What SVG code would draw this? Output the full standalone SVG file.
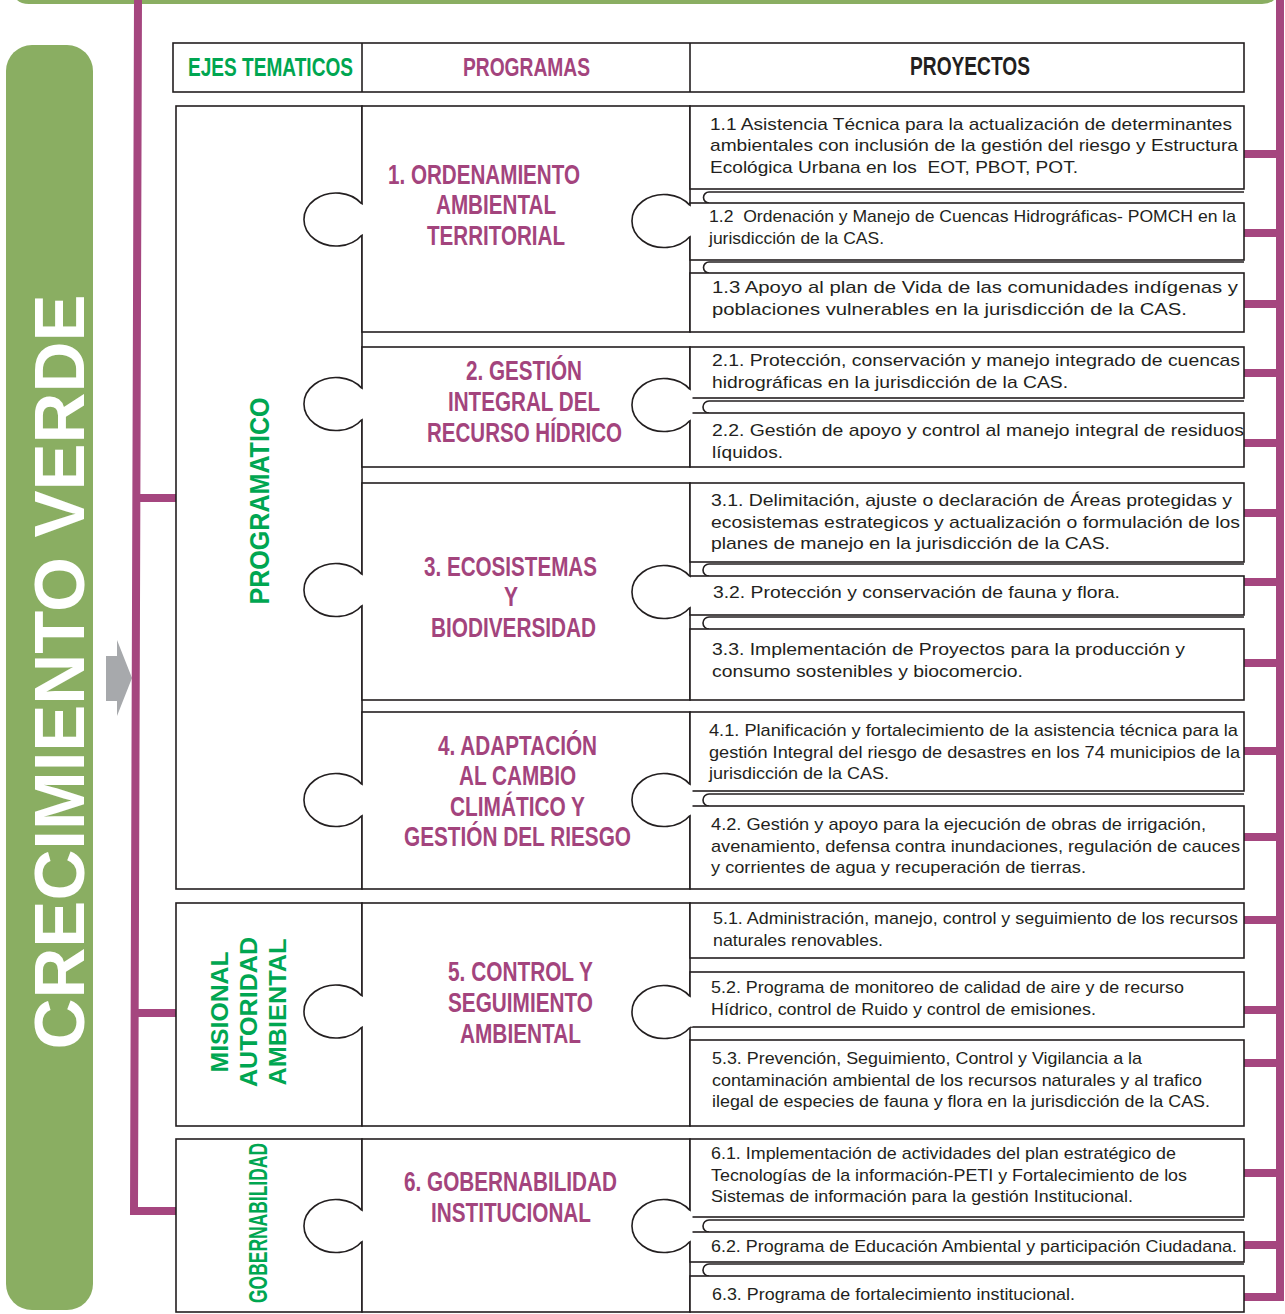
<svg xmlns="http://www.w3.org/2000/svg" width="1285" height="1314" viewBox="0 0 1285 1314">
<style>
.bx{fill:#fff;stroke:#231F20;stroke-width:1.6}
.ln{fill:none;stroke:#231F20;stroke-width:1.6}
.pt{font-family:"Liberation Sans",Arial,sans-serif;font-size:17px;fill:#231F20}
.pg{font-family:"Liberation Sans",Arial,sans-serif;font-weight:bold;font-size:27px;fill:#A3447D;text-anchor:start}
.gr{font-family:"Liberation Sans",Arial,sans-serif;font-weight:bold;fill:#00A651}
.hd{font-family:"Liberation Sans",Arial,sans-serif;font-weight:bold;font-size:26px}
.pu{fill:none;stroke:#A5467F;stroke-width:8}
</style>
<defs>
<g id="knob">
<rect x="-2.5" y="-14.6" width="5" height="29.2" fill="#fff"/>
<path d="M0,-15.4 A32,26.5 0 1 0 0,15.4" fill="#fff" stroke="#231F20" stroke-width="1.6"/>
</g>
</defs>

<!-- top green frame edge -->
<path d="M15,-12 Q15,2 29,2 H1262 Q1276,2 1276,-12" fill="none" stroke="#8AAE62" stroke-width="4"/>

<!-- left green banner -->
<g id="banner">
<rect x="6" y="45" width="87" height="1265" rx="26" fill="#8AAE62"/>
<text transform="translate(84,672) rotate(-90)" text-anchor="middle" font-family="Liberation Sans,Arial,sans-serif" font-weight="bold" font-size="70" fill="#fff" textLength="755" lengthAdjust="spacingAndGlyphs">CRECIMIENTO VERDE</text>
</g>
<g id="arrow">
<path d="M106,656 H117 V640 L132,678 L117,716 V701 H106 Z" fill="#A7A9AC"/>
</g>

<!-- connectors -->
<g id="connectors">
<path class="pu" d="M138,0 L134,1211 H176"/>
<path class="pu" d="M136,498 H176"/>
<path class="pu" d="M134,1013 H176"/>
<path class="pu" d="M1280,0 V1297 H1244"/>
<path class="pu" d="M1244,154 H1280 M1244,233 H1280 M1244,304 H1280 M1244,373 H1280 M1244,443 H1280 M1244,513 H1280 M1244,582 H1280 M1244,663 H1280 M1244,751 H1280 M1244,837 H1280 M1244,920 H1280 M1244,1010 H1280 M1244,1063 H1280 M1244,1173 H1280 M1244,1245 H1280"/>
</g>

<!-- header -->
<g id="header">
<rect class="bx" x="173" y="43" width="1071" height="49"/>
<line class="ln" x1="362" y1="43" x2="362" y2="92"/>
<line class="ln" x1="690" y1="43" x2="690" y2="92"/>
<text class="hd" x="188" y="76" fill="#00A651" textLength="165" lengthAdjust="spacingAndGlyphs">EJES TEMATICOS</text>
<text class="hd" x="463" y="76" fill="#A3447D" textLength="127" lengthAdjust="spacingAndGlyphs">PROGRAMAS</text>
<text class="hd" x="910" y="75" fill="#231F20" textLength="120" lengthAdjust="spacingAndGlyphs">PROYECTOS</text>
</g>

<!-- axis cells -->
<g id="eje-programatico">
<rect class="bx" x="176" y="106" width="186" height="783"/>
<text class="gr" font-size="27" transform="translate(269,501) rotate(-90)" text-anchor="middle" textLength="207" lengthAdjust="spacingAndGlyphs">PROGRAMATICO</text>
</g>
<g id="eje-misional">
<rect class="bx" x="176" y="903" width="186" height="223"/>
<text class="gr" font-size="24.5" transform="translate(228,1012) rotate(-90)" text-anchor="middle" textLength="121" lengthAdjust="spacingAndGlyphs">MISIONAL</text>
<text class="gr" font-size="24.5" transform="translate(257,1012) rotate(-90)" text-anchor="middle" textLength="150" lengthAdjust="spacingAndGlyphs">AUTORIDAD</text>
<text class="gr" font-size="24.5" transform="translate(286,1012) rotate(-90)" text-anchor="middle" textLength="147" lengthAdjust="spacingAndGlyphs">AMBIENTAL</text>
</g>
<g id="eje-gobernabilidad">
<rect class="bx" x="176" y="1139" width="186" height="173"/>
<text class="gr" font-size="25" transform="translate(267,1223) rotate(-90)" text-anchor="middle" textLength="160" lengthAdjust="spacingAndGlyphs">GOBERNABILIDAD</text>
</g>

<!-- programs -->
<g id="prog1">
<rect class="bx" x="362" y="106" width="328" height="226"/>
<text class="pg" x="388" y="184" textLength="192" lengthAdjust="spacingAndGlyphs">1. ORDENAMIENTO</text>
<text class="pg" x="436" y="214" textLength="120" lengthAdjust="spacingAndGlyphs">AMBIENTAL</text>
<text class="pg" x="427" y="245" textLength="138" lengthAdjust="spacingAndGlyphs">TERRITORIAL</text>
</g>
<g id="prog2">
<rect class="bx" x="362" y="347" width="328" height="120"/>
<text class="pg" x="466" y="380" textLength="116" lengthAdjust="spacingAndGlyphs">2. GESTIÓN</text>
<text class="pg" x="448" y="411" textLength="152" lengthAdjust="spacingAndGlyphs">INTEGRAL DEL</text>
<text class="pg" x="427" y="442" textLength="195" lengthAdjust="spacingAndGlyphs">RECURSO HÍDRICO</text>
</g>
<g id="prog3">
<rect class="bx" x="362" y="483" width="328" height="217"/>
<text class="pg" x="424" y="576" textLength="173" lengthAdjust="spacingAndGlyphs">3. ECOSISTEMAS</text>
<text class="pg" x="504" y="606" textLength="14" lengthAdjust="spacingAndGlyphs">Y</text>
<text class="pg" x="431" y="637" textLength="165" lengthAdjust="spacingAndGlyphs">BIODIVERSIDAD</text>
</g>
<g id="prog4">
<rect class="bx" x="362" y="712" width="328" height="177"/>
<text class="pg" x="438" y="755" textLength="159" lengthAdjust="spacingAndGlyphs">4. ADAPTACIÓN</text>
<text class="pg" x="459" y="785" textLength="117" lengthAdjust="spacingAndGlyphs">AL CAMBIO</text>
<text class="pg" x="450" y="816" textLength="135" lengthAdjust="spacingAndGlyphs">CLIMÁTICO Y</text>
<text class="pg" x="404" y="846" textLength="227" lengthAdjust="spacingAndGlyphs">GESTIÓN DEL RIESGO</text>
</g>
<g id="prog5">
<rect class="bx" x="362" y="903" width="328" height="223"/>
<text class="pg" x="448" y="981" textLength="145" lengthAdjust="spacingAndGlyphs">5. CONTROL Y</text>
<text class="pg" x="448" y="1012" textLength="145" lengthAdjust="spacingAndGlyphs">SEGUIMIENTO</text>
<text class="pg" x="460" y="1043" textLength="121" lengthAdjust="spacingAndGlyphs">AMBIENTAL</text>
</g>
<g id="prog6">
<rect class="bx" x="362" y="1139" width="328" height="173"/>
<text class="pg" x="404" y="1191" textLength="213" lengthAdjust="spacingAndGlyphs">6. GOBERNABILIDAD</text>
<text class="pg" x="431" y="1222" textLength="160" lengthAdjust="spacingAndGlyphs">INSTITUCIONAL</text>
</g>

<!-- projects -->
<g id="p11">
<rect class="bx" x="690" y="106" width="554" height="83"/>
<text class="pt" x="710" y="130" textLength="522" lengthAdjust="spacingAndGlyphs">1.1 Asistencia Técnica para la actualización de determinantes</text>
<text class="pt" x="710" y="151" textLength="528" lengthAdjust="spacingAndGlyphs">ambientales con inclusión de la gestión del riesgo y Estructura</text>
<text class="pt" x="710" y="173" textLength="368" lengthAdjust="spacingAndGlyphs">Ecológica Urbana en los &#160;EOT, PBOT, POT.</text>
</g>
<g id="p12">
<path class="ln" d="M1244,192 H709 A5.5,5.5 0 0 0 709,203"/>
<rect class="bx" x="690" y="203" width="554" height="57"/>
<text class="pt" x="709" y="222" textLength="527" lengthAdjust="spacingAndGlyphs">1.2 &#160;Ordenación y Manejo de Cuencas Hidrográficas- POMCH en la</text>
<text class="pt" x="709" y="244" textLength="175" lengthAdjust="spacingAndGlyphs">jurisdicción de la CAS.</text>
</g>
<g id="p13">
<path class="ln" d="M1244,262 H709 A5.5,5.5 0 0 0 709,273"/>
<rect class="bx" x="690" y="273" width="554" height="59"/>
<text class="pt" x="712" y="293" textLength="526" lengthAdjust="spacingAndGlyphs">1.3 Apoyo al plan de Vida de las comunidades indígenas y</text>
<text class="pt" x="712" y="315" textLength="475" lengthAdjust="spacingAndGlyphs">poblaciones vulnerables en la jurisdicción de la CAS.</text>
</g>
<g id="p21">
<rect class="bx" x="690" y="347" width="554" height="51"/>
<text class="pt" x="712" y="366" textLength="528" lengthAdjust="spacingAndGlyphs">2.1. Protección, conservación y manejo integrado de cuencas</text>
<text class="pt" x="712" y="388" textLength="356" lengthAdjust="spacingAndGlyphs">hidrográficas en la jurisdicción de la CAS.</text>
</g>
<g id="p22">
<path class="ln" d="M1244,401 H709 A6,6 0 0 0 709,413"/>
<rect class="bx" x="690" y="413" width="554" height="54"/>
<text class="pt" x="712" y="436" textLength="532" lengthAdjust="spacingAndGlyphs">2.2. Gestión de apoyo y control al manejo integral de residuos</text>
<text class="pt" x="712" y="458" textLength="71" lengthAdjust="spacingAndGlyphs">líquidos.</text>
</g>
<g id="p31">
<rect class="bx" x="690" y="483" width="554" height="79"/>
<text class="pt" x="711" y="506" textLength="521" lengthAdjust="spacingAndGlyphs">3.1. Delimitación, ajuste o declaración de Áreas protegidas y</text>
<text class="pt" x="711" y="528" textLength="529" lengthAdjust="spacingAndGlyphs">ecosistemas estrategicos y actualización o formulación de los</text>
<text class="pt" x="711" y="549" textLength="399" lengthAdjust="spacingAndGlyphs">planes de manejo en la jurisdicción de la CAS.</text>
</g>
<g id="p32">
<path class="ln" d="M1244,564 H709 A6,6 0 0 0 709,576"/>
<rect class="bx" x="690" y="576" width="554" height="39"/>
<text class="pt" x="713" y="598" textLength="407" lengthAdjust="spacingAndGlyphs">3.2. Protección y conservación de fauna y flora.</text>
</g>
<g id="p33">
<path class="ln" d="M1244,617 H709 A6,6 0 0 0 709,629"/>
<rect class="bx" x="690" y="629" width="554" height="71"/>
<text class="pt" x="712" y="655" textLength="473" lengthAdjust="spacingAndGlyphs">3.3. Implementación de Proyectos para la producción y</text>
<text class="pt" x="712" y="677" textLength="311" lengthAdjust="spacingAndGlyphs">consumo sostenibles y biocomercio.</text>
</g>
<g id="p41">
<rect class="bx" x="690" y="712" width="554" height="79"/>
<text class="pt" x="709" y="736" textLength="529" lengthAdjust="spacingAndGlyphs">4.1. Planificación y fortalecimiento de la asistencia técnica para la</text>
<text class="pt" x="709" y="758" textLength="531" lengthAdjust="spacingAndGlyphs">gestión Integral del riesgo de desastres en los 74 municipios de la</text>
<text class="pt" x="709" y="779" textLength="180" lengthAdjust="spacingAndGlyphs">jurisdicción de la CAS.</text>
</g>
<g id="p42">
<path class="ln" d="M1244,794 H709 A6,6 0 0 0 709,806"/>
<rect class="bx" x="690" y="806" width="554" height="83"/>
<text class="pt" x="711" y="830" textLength="495" lengthAdjust="spacingAndGlyphs">4.2. Gestión y apoyo para la ejecución de obras de irrigación,</text>
<text class="pt" x="711" y="852" textLength="529" lengthAdjust="spacingAndGlyphs">avenamiento, defensa contra inundaciones, regulación de cauces</text>
<text class="pt" x="711" y="873" textLength="375" lengthAdjust="spacingAndGlyphs">y corrientes de agua y recuperación de tierras.</text>
</g>
<g id="p51">
<rect class="bx" x="690" y="903" width="554" height="55"/>
<text class="pt" x="713" y="924" textLength="525" lengthAdjust="spacingAndGlyphs">5.1. Administración, manejo, control y seguimiento de los recursos</text>
<text class="pt" x="713" y="946" textLength="170" lengthAdjust="spacingAndGlyphs">naturales renovables.</text>
</g>
<g id="p52">
<rect class="bx" x="690" y="972" width="554" height="55"/>
<text class="pt" x="711" y="993" textLength="473" lengthAdjust="spacingAndGlyphs">5.2. Programa de monitoreo de calidad de aire y de recurso</text>
<text class="pt" x="711" y="1015" textLength="385" lengthAdjust="spacingAndGlyphs">Hídrico, control de Ruido y control de emisiones.</text>
</g>
<g id="p53">
<rect class="bx" x="690" y="1040" width="554" height="86"/>
<text class="pt" x="712" y="1064" textLength="430" lengthAdjust="spacingAndGlyphs">5.3. Prevención, Seguimiento, Control y Vigilancia a la</text>
<text class="pt" x="712" y="1086" textLength="490" lengthAdjust="spacingAndGlyphs">contaminación ambiental de los recursos naturales y al trafico</text>
<text class="pt" x="712" y="1107" textLength="498" lengthAdjust="spacingAndGlyphs">ilegal de especies de fauna y flora en la jurisdicción de la CAS.</text>
</g>
<g id="p61">
<rect class="bx" x="690" y="1139" width="554" height="78"/>
<text class="pt" x="711" y="1159" textLength="465" lengthAdjust="spacingAndGlyphs">6.1. Implementación de actividades del plan estratégico de</text>
<text class="pt" x="711" y="1181" textLength="476" lengthAdjust="spacingAndGlyphs">Tecnologías de la información-PETI y Fortalecimiento de los</text>
<text class="pt" x="711" y="1202" textLength="422" lengthAdjust="spacingAndGlyphs">Sistemas de información para la gestión Institucional.</text>
</g>
<g id="p62">
<path class="ln" d="M1244,1220 H709 A6,6 0 0 0 709,1232"/>
<rect class="bx" x="690" y="1232" width="554" height="30"/>
<text class="pt" x="711" y="1252" textLength="526" lengthAdjust="spacingAndGlyphs">6.2. Programa de Educación Ambiental y participación Ciudadana.</text>
</g>
<g id="p63">
<path class="ln" d="M1244,1264 H709 A6,6 0 0 0 709,1276"/>
<rect class="bx" x="690" y="1276" width="554" height="36"/>
<text class="pt" x="712" y="1300" textLength="363" lengthAdjust="spacingAndGlyphs">6.3. Programa de fortalecimiento institucional.</text>
</g>

<!-- puzzle knobs -->
<g id="knobs">
<use href="#knob" x="362" y="219.5"/>
<use href="#knob" x="690" y="221"/>
<use href="#knob" x="362" y="404"/>
<use href="#knob" x="690" y="405"/>
<use href="#knob" x="362" y="590"/>
<use href="#knob" x="690" y="592"/>
<use href="#knob" x="362" y="800"/>
<use href="#knob" x="690" y="800"/>
<use href="#knob" x="362" y="1011.5"/>
<use href="#knob" x="690" y="1012"/>
<use href="#knob" x="362" y="1226"/>
<use href="#knob" x="690" y="1226"/>
</g>
</svg>
